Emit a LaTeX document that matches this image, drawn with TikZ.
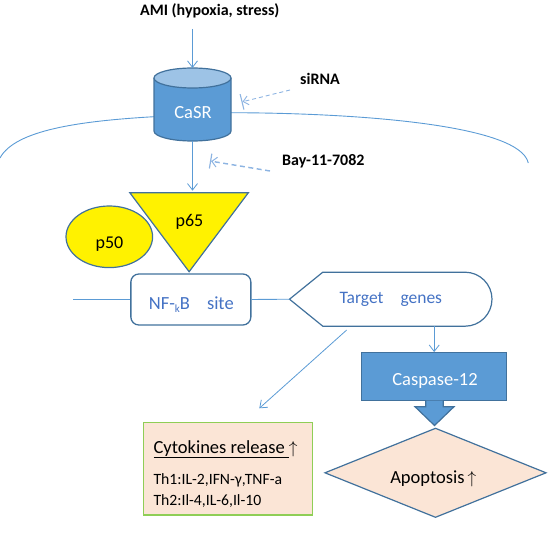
\documentclass[tikz,border=0pt]{standalone}
\usepackage{fontspec}
\setmainfont{Carlito}
\usetikzlibrary{arrows.meta,shapes.geometric}
\definecolor{lineblue}{HTML}{5B9BD5}
\definecolor{dashblue}{HTML}{8DB4E2}
\definecolor{bordblue}{HTML}{41719C}
\definecolor{fillblue}{HTML}{5B9BD5}
\definecolor{topblue}{HTML}{9DC3E6}
\definecolor{txtblue}{HTML}{4472C4}
\definecolor{peach}{HTML}{FBE5D6}
\definecolor{leafgreen}{HTML}{8FCE56}
\begin{document}
\begin{tikzpicture}[x=1pt,y=-1pt,
  arr/.style={lineblue, line width=0.8pt, -{Straight Barb[length=6.5pt,width=10pt]}},
  plainline/.style={lineblue, line width=0.9pt},
  inh/.style={dashblue, line width=0.9pt, dash pattern=on 4pt off 3pt,
     -{Straight Barb[length=5pt,width=9pt] Bar[width=16pt,line width=1.1pt]}},
  inhb/.style={dashblue, line width=1.4pt, dash pattern=on 5pt off 3.5pt,
     -{Straight Barb[length=5pt,width=10pt,line width=1pt] Bar[width=15pt,line width=1.2pt]}},
  boldlbl/.style={font=\bfseries\fontsize{16}{16}\selectfont, inner sep=0, anchor=base},
  shapeline/.style={draw=bordblue, line width=1.2pt},
  bigtxt/.style={font=\fontsize{18.5}{18.5}\selectfont, inner sep=0, anchor=base},
  ghost/.style={inner sep=0, outer sep=0}
]
\useasboundingbox (0,0) rectangle (550,535);

% top labels
\node[boldlbl] (ami) at (209.8,15.5) {AMI (hypoxia, stress)};
\node[boldlbl, anchor=base west] (sirna) at (300,85) {siRNA};
\node[boldlbl, anchor=base west] (bay) at (282,166) {Bay-11-7082};

% CaSR cylinder
\node[ghost, minimum width=77pt, minimum height=73pt] (casr) at (192.5,104.5) {};
\coordinate (casrL) at (154,116.7);
\coordinate (casrR) at (231,112.7);
% membrane
\draw[plainline] (0,158) .. controls (15,130) and (80,121) .. (casrL);
\draw[plainline] (casrR) .. controls (360,113) and (520,125) .. (528.3,163);
\fill[fillblue] (154,78) -- (154,131) arc[start angle=180,end angle=0,x radius=38.5,y radius=10] -- (231,78) -- cycle;
\draw[shapeline] (154,78) -- (154,131) arc[start angle=180,end angle=0,x radius=38.5,y radius=10] -- (231,78);
\filldraw[fill=topblue, shapeline] (192.5,78) ellipse[x radius=38.5, y radius=10];
\node[bigtxt, text=white, font=\fontsize{18.5}{18.5}\selectfont] (casrtxt) at (193,119) {CaSR};

% AMI arrow
\coordinate (amistart) at (192.5,29);
\draw[arr] (amistart) -- (casr.north);

% siRNA inhibition
\coordinate (sitip) at (241.5,102);
\draw[inh] ([xshift=-10pt,yshift=-5pt]sirna.base west) -- (sitip);

% p65 triangle
\node[ghost, minimum width=118.6pt, minimum height=79pt] (p65) at (189.1,232.2) {};
\filldraw[fill=yellow, shapeline] (p65.north west) -- (p65.north east) -- (p65.south) -- cycle;
\node[bigtxt, font=\fontsize{18}{18}\selectfont] (p65txt) at (189.5,226) {p65};

% p50 ellipse
\node[ellipse, fill=yellow, shapeline, minimum width=86.6pt, minimum height=61.6pt, inner sep=0] (p50) at (109.3,236.8) {};
\node[bigtxt, font=\fontsize{18}{18}\selectfont] (p50txt) at (109.5,248) {p50};

% CaSR -> p65
\draw[arr, shorten >=2pt] (casr.south) -- (casr.south |- p65.north);
% Bay inhibition
\coordinate (baytip) at (210,161);
\draw[inhb] ([xshift=-12pt,yshift=-5pt]bay.base west) -- (baytip);

% NF-kB site
\node[draw=bordblue, line width=1.3pt, rounded corners=8pt, minimum width=120pt, minimum height=51pt, inner sep=0] (nf) at (190.85,299.5) {};
\node[bigtxt, text=txtblue] (nftxt) at (191.3,309) {NF-\raisebox{-3pt}{\fontsize{11}{11}\selectfont k}B\hspace{17pt}site};
\coordinate (dna) at (73,299.5);
\draw[plainline] (dna) -- (nf.west);

% Target genes
\node[ghost, minimum width=202.5pt, minimum height=54pt] (tg) at (390.75,299.2) {};
\draw[shapeline] (tg.west) -- (322.8,272.2) -- (465,272.2) arc[start angle=-90,end angle=90,radius=27] -- (322.8,326.2) -- cycle;
\node[bigtxt, text=txtblue, font=\fontsize{17.5}{17.5}\selectfont] (tgtxt) at (390.8,303) {Target\hspace{17pt}genes};
\draw[plainline] (nf.east) -- (tg.west);

% Caspase-12
\node[fill=fillblue, shapeline, minimum width=145pt, minimum height=48pt, inner sep=0] (casp) at (434.2,376.7) {};
\node[bigtxt, text=white] (casptxt) at (435,385.5) {Caspase-12};
\draw[arr] (casp.north |- tg.south) -- (casp.north);

% block arrow
\fill[fillblue] (425.8,400.7) -- (425.8,406.7) -- (415,406.7) -- (434.5,425.5) -- (454,406.7) -- (443.2,406.7) -- (443.2,400.7) -- cycle;
\draw[shapeline] (425.8,400.7) -- (425.8,406.7) -- (415,406.7) -- (434.5,425.5) -- (454,406.7) -- (443.2,406.7) -- (443.2,400.7);

% Apoptosis
\node[ghost, minimum width=221pt, minimum height=89pt] (apo) at (435.5,472.8) {};
\filldraw[fill=peach, shapeline] (apo.west) -- (apo.north) -- (apo.east) -- (apo.south) -- cycle;
\node[bigtxt] (apotxt) at (433.3,483.3) {Apoptosis\,$\uparrow$};

% Cytokines
\node[fill=peach, draw=leafgreen, line width=1.2pt, minimum width=169.4pt, minimum height=92.7pt, inner sep=0] (cyt) at (228,468.65) {};
\node[bigtxt, anchor=base west] (cyt1) at (153.3,453.3) {\underline{Cytokines release\ }$\uparrow$};
\node[inner sep=0, anchor=base west, font=\fontsize{15.7}{15.7}\selectfont] (cyt2) at (153.3,484.3) {Th1:IL-2,IFN-γ,TNF-a};
\node[inner sep=0, anchor=base west, font=\fontsize{15.7}{15.7}\selectfont] (cyt3) at (153.3,505) {Th2:Il-4,IL-6,Il-10};

% diagonal arrow
\coordinate (d1) at (346.7,330);
\coordinate (d2) at (259.3,408.3);
\draw[arr] (d1) -- (d2);
\end{tikzpicture}
\end{document}
